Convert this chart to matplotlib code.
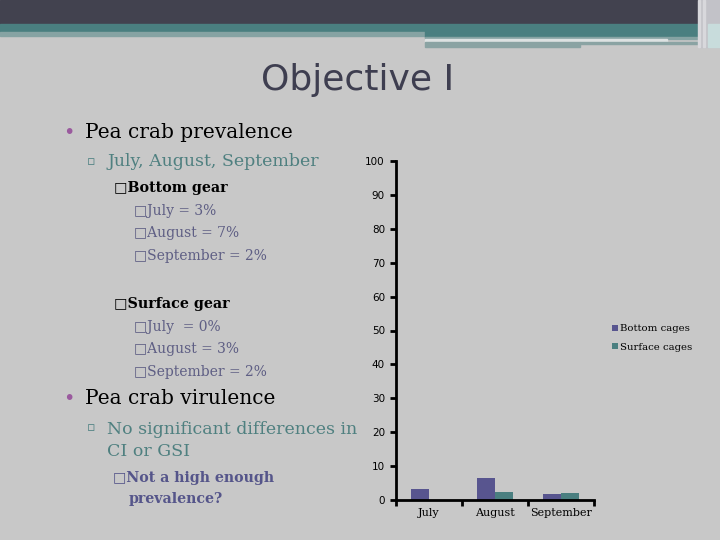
import numpy as np
import matplotlib.pyplot as plt
from matplotlib.patches import Rectangle

# chart data
months = ['July', 'August', 'September']
bottom_cages = [3.2, 6.5, 1.8]
surface_cages = [0.0, 2.4, 2.0]
y_ticks = [0, 10, 20, 30, 40, 50, 60, 70, 80, 90, 100]

bg = '#c8c8c8'
purple = '#58558f'
teal = '#4a7f80'
sub_col = '#5e5e84'

W, H = 720, 540
fig = plt.figure(figsize=(7.2, 5.4), dpi=100, facecolor=bg)


def fx(x):
    return x / W


def fy(y):
    return 1 - y / H


def band(x0, y0, x1, y1, c):
    fig.patches.append(Rectangle((fx(x0), fy(y1)), (x1 - x0) / W, (y1 - y0) / H,
                                 transform=fig.transFigure, color=c, zorder=0))


# header decoration
band(0, 0, 720, 24, '#42424f')
band(0, 24, 425, 32, '#4a7f80')
band(0, 32, 425, 36, '#86a3a3')
band(425, 24, 700, 37, '#4a7f80')
band(425, 37, 700, 39, '#86a3a3')
band(425, 39, 667, 42, '#dde2e2')
band(425, 42, 580, 47, '#8aa3a3')
band(580, 42, 700, 44, '#8aa3a3')
band(700, 0, 720, 47, '#c2c2c8')
band(698, 0, 700, 47, '#d8d8dc')
band(703, 0, 705, 47, '#d8d8dc')
band(708, 24, 720, 47, '#c8dcdc')

fig.text(fx(358), fy(80), 'Objective I', ha='center', va='center', fontsize=26,
         color='#3e3e50', family=['DejaVu Sans'])

serif = ['DejaVu Serif']

# left bullet text
fig.text(fx(69), fy(133), '\u2022', ha='center', va='center', fontsize=14, color='#9a5a9e')
fig.text(fx(85), fy(133), 'Pea crab prevalence', va='center', fontsize=14.5, family=serif, color='black')
fig.text(fx(91), fy(162), '\u25ab', ha='center', va='center', fontsize=9, color=teal)
fig.text(fx(107), fy(162), 'July, August, September', va='center', fontsize=12.5, family=serif, color='#4f8080')
fig.text(fx(114), fy(188), '\u25a1Bottom gear', va='center', fontsize=10.3, family=serif, color='black',
         fontweight='bold')
for i, s in enumerate(['July = 3%', 'August = 7%', 'September = 2%']):
    fig.text(fx(134), fy(211 + 22.5 * i), '\u25a1' + s, va='center', fontsize=10, family=serif, color=sub_col)
fig.text(fx(114), fy(304), '\u25a1Surface gear', va='center', fontsize=10.3, family=serif, color='black',
         fontweight='bold')
for i, s in enumerate(['July  = 0%', 'August = 3%', 'September = 2%']):
    fig.text(fx(134), fy(327 + 22.5 * i), '\u25a1' + s, va='center', fontsize=10, family=serif, color=sub_col)
fig.text(fx(69), fy(399), '\u2022', ha='center', va='center', fontsize=14, color='#9a5a9e')
fig.text(fx(85), fy(399), 'Pea crab virulence', va='center', fontsize=14.5, family=serif, color='black')
fig.text(fx(91), fy(428), '\u25ab', ha='center', va='center', fontsize=9, color=teal)
fig.text(fx(107), fy(429), 'No significant differences in', va='center', fontsize=12.5, family=serif,
         color='#4f8080')
fig.text(fx(107), fy(452), 'CI or GSI', va='center', fontsize=12.5, family=serif, color='#4f8080')
fig.text(fx(113), fy(478), '\u25a1Not a high enough', va='center', fontsize=10.2, family=serif,
         color='#55558a', fontweight='bold')
fig.text(fx(129), fy(499), 'prevalence?', va='center', fontsize=10.2, family=serif,
         color='#55558a', fontweight='bold')

# chart
ax = fig.add_axes([fx(396), fy(500), (594 - 396) / W, (500 - 161) / H])
ax.set_facecolor(bg)
x = np.arange(len(months))
w = 0.27
ax.bar(x - w / 2, bottom_cages, w, color=purple, label='Bottom cages')
ax.bar(x + w / 2, surface_cages, w, color=teal, label='Surface cages')
ax.set_xlim(-0.5, 2.5)
ax.set_ylim(0, 100)
ax.set_yticks(y_ticks)
ax.set_yticklabels([str(v) for v in y_ticks], fontsize=7.5, family='DejaVu Sans')
ax.set_xticks(x)
ax.set_xticklabels(months, fontsize=8, family=serif)
ax.set_xticks([-0.5, 0.5, 1.5, 2.5], minor=True)
ax.tick_params(axis='x', which='major', length=0, pad=6)
ax.tick_params(axis='x', which='minor', length=4, width=2, direction='out')
ax.tick_params(axis='y', length=4, width=2, direction='out', pad=4)
for s in ['top', 'right']:
    ax.spines[s].set_visible(False)
for s in ['left', 'bottom']:
    ax.spines[s].set_linewidth(2)

fig.legend(loc='center left', bbox_to_anchor=(fx(607), fy(338)), frameon=False,
           prop={'family': serif, 'size': 7.3}, handlelength=0.6, handleheight=0.6,
           handletextpad=0.2, labelspacing=0.9, borderpad=0)

fig.savefig('out.png', dpi=100, facecolor=bg)
